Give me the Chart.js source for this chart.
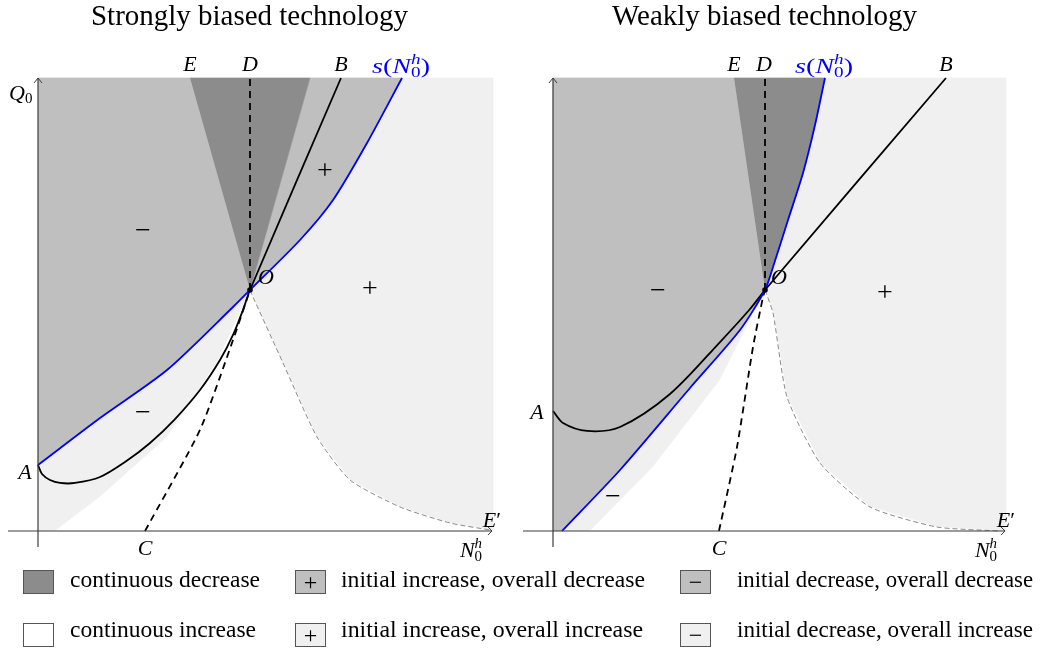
<!DOCTYPE html>
<html><head><meta charset="utf-8">
<script src="https://cdn.jsdelivr.net/npm/chart.js@4.4.0/dist/chart.umd.min.js"></script>
<style>
html,body{margin:0;padding:0;background:#fff;}
body{width:1040px;height:657px;overflow:hidden;position:relative;font-family:"Liberation Serif","Times New Roman",serif;color:#000;}
canvas{position:absolute;top:0;}
.lb{position:absolute;white-space:nowrap;line-height:1;transform-origin:0 0;}
.ss{display:inline-block;vertical-align:-0.32em;font-size:0.68em;line-height:0.92;text-align:left;font-style:italic;}
.ss span{display:block;}
.ss .z{font-style:normal;}
.box{position:absolute;width:29px;height:22px;border:1px solid #555;box-sizing:content-box;text-align:center;font-size:24px;line-height:22px;}
</style></head>
<body>
<canvas id="cl" width="520" height="657" style="left:0"></canvas>
<canvas id="cr" width="520" height="657" style="left:520px"></canvas>
<div id="txt"></div>
<script>
// ---------- DATA (axis units 0..10 in both panels) ----------
// Left panel: strongly biased technology
const leftO = [4.659, 5.32];
const leftBlue = [[0,1.457],[1.363,2.494],[2.835,3.554],[4.286,4.945],[4.659,5.32],[5.758,6.424],[6.484,7.307],[7.231,8.565],[8.0,10]];
const leftBlack = [[0,1.457],[0.088,1.258],[0.264,1.126],[0.484,1.06],[0.813,1.06],[1.363,1.192],[1.912,1.523],[2.462,1.943],[3.011,2.472],[3.56,3.113],[4.0,3.775],[4.286,4.327],[4.505,4.879],[4.659,5.32],[6.659,10]];
const leftDashC = [[2.352,0],[3.56,2.23],[4.286,4.216],[4.659,5.32]];
const leftDashD = [[4.659,5.32],[4.659,10]];
const leftLowEdge = [[0.374,0],[1.363,0.751],[2.835,2.075],[3.934,3.709],[4.659,5.32]];
const leftGrayDash = [[4.659,5.32],[4.725,5.166],[5.385,3.709],[6.132,2.075],[6.857,1.126],[7.956,0.53],[9.055,0.177],[9.934,0.022]];
const leftTopE = 3.341, leftTopDarkRight = 5.978;

// Right panel: weakly biased technology
const rightO = [4.68, 5.32];
const rightBlue = [[0.199,0],[1.479,1.347],[3.024,3.157],[4.128,4.437],[4.68,5.32],[4.857,5.828],[5.188,6.865],[5.519,7.903],[5.784,8.962],[6.004,10]];
const rightBlack = [[0,2.649],[0.221,2.384],[0.751,2.208],[1.479,2.296],[2.583,3.024],[3.687,4.172],[4.349,4.901],[4.68,5.32],[8.675,10]];
const rightDashC = [[3.664,0],[4.062,1.854],[4.415,4.062],[4.636,5.166],[4.68,5.32]];
const rightDashD = [[4.68,5.32],[4.68,10]];
const rightLowEdge = [[0.817,0],[2.208,1.413],[3.687,3.333],[4.68,5.32]];
const rightGrayDash = [[4.68,5.32],[4.857,4.812],[5.166,2.958],[5.894,1.501],[6.998,0.53],[8.477,0.088],[9.868,0]];
const rightTopE = 3.996;

const plotBox = [[0,0],[10,0],[10,10],[0,10]];

const legendItems = [
  {label:'continuous decrease', sign:'', color:'#8c8c8c'},
  {label:'initial increase, overall decrease', sign:'+', color:'#bfbfbf'},
  {label:'initial decrease, overall decrease', sign:'\u2212', color:'#bfbfbf'},
  {label:'continuous increase', sign:'', color:'#ffffff'},
  {label:'initial increase, overall increase', sign:'+', color:'#f0f0f0'},
  {label:'initial decrease, overall increase', sign:'\u2212', color:'#f0f0f0'}
];

// ---------- COLORS ----------
const C_LIGHT='#f0f0f0', C_MED='#bfbfbf', C_DARK='#8c8c8c', C_BLUE='#0000ff';

const xy = a => a.map(p => ({x:p[0], y:p[1]}));
function poly(a, color, order){
  return {data:xy(a), showLine:true, fill:'shape', backgroundColor:color, borderColor:color, borderWidth:0.6, pointRadius:0, tension:0, order};
}
function line(a, color, w, dash, order, tension){
  return {data:xy(a), showLine:true, fill:false, borderColor:color, borderWidth:w, borderDash:dash||[], pointRadius:0, tension:tension||0, order, borderCapStyle:'butt'};
}

function panelDatasets(P){
  const ax = '#3c3c3c';
  return [
    poly(plotBox, C_LIGHT, 100),
    poly(P.white, '#ffffff', 95),
    ...P.med.map(m => poly(m, C_MED, 90)),
    poly(P.dark, C_DARK, 85),
    line(P.grayDash, '#8a8a8a', 1, [5,3], 60, 0.2),
    line(P.dashC, '#000', 1.8, [7,5], 50, 0.2),
    line(P.dashD, '#000', 1.8, [7,5], 50, 0),
    line(P.black, '#000', 1.8, [], 40, 0.3),
    line(P.blue, C_BLUE, 1.8, [], 30, 0.25),
    line([[P.xAxisStart,0],[9.978,0]], ax, 1.2, [], 20),
    line([[9.89,0.09],[9.978,0],[9.89,-0.09]], ax, 1, [], 20),
    line([[0,-0.353],[0,10]], ax, 1.2, [], 20),
    line([[-0.088,9.89],[0,10],[0.088,9.89]], ax, 1, [], 20),
    {data:xy([P.O]), showLine:false, pointRadius:2.8, pointBackgroundColor:'#000', pointBorderWidth:0, order:10}
  ];
}

const leftP = {
  O:leftO, blue:leftBlue, black:leftBlack, dashC:leftDashC, dashD:leftDashD, grayDash:leftGrayDash,
  white: leftLowEdge.concat(leftGrayDash.slice(1), [[9.934,0]]),
  med: [ [[0,10],[leftTopE,10],leftO].concat(leftBlue.slice(0,4).reverse()),
         [[leftTopDarkRight,10]].concat(leftBlue.slice(4).reverse()) ],
  dark: [[leftTopE,10],[leftTopDarkRight,10],leftO],
  xAxisStart:-0.659
};
const rightP = {
  O:rightO, blue:rightBlue, black:rightBlack, dashC:rightDashC, dashD:rightDashD, grayDash:rightGrayDash,
  white: rightLowEdge.concat(rightGrayDash.slice(1)),
  med: [ [[0,0],[0,10],[rightTopE,10],rightO].concat(rightBlue.slice(0,4).reverse()) ],
  dark: [[rightTopE,10]].concat(rightBlue.slice(4).reverse()),
  xAxisStart:-0.662
};

function makeChart(id, P, xr, yr){
  return new Chart(document.getElementById(id), {
    type:'line',
    data:{datasets:panelDatasets(P)},
    options:{
      responsive:false, animation:false, devicePixelRatio:1, events:[],
      layout:{padding:0, autoPadding:false},
      plugins:{legend:{display:false}, tooltip:{enabled:false}, title:{display:false}, filler:{propagate:false}},
      scales:{
        x:{type:'linear', min:xr[0], max:xr[1], display:false},
        y:{type:'linear', min:yr[0], max:yr[1], display:false}
      }
    }
  });
}
makeChart('cl', leftP, [-0.8352, 10.5934], [-2.7815, 11.7219]);
makeChart('cr', rightP, [-0.7285, 10.7506], [-2.7815, 11.7219]);

// ---------- TEXT ----------
const T = document.getElementById('txt');
function put(html, x, base, fs, anchor, style, targetW){
  const d = document.createElement('div');
  d.className = 'lb';
  d.innerHTML = html;
  d.style.fontSize = fs + 'px';
  if (style) d.style.cssText += style;
  T.appendChild(d);
  let w = d.getBoundingClientRect().width;
  let sx = 1;
  if (targetW) { sx = targetW / w; w = targetW; }
  const left = anchor==='c' ? x - w/2 : anchor==='r' ? x - w : x;
  d.style.left = left + 'px';
  d.style.top = (base - 0.8375*fs) + 'px';
  if (sx !== 1) d.style.transform = 'scaleX(' + sx + ')';
  return d;
}
const sub = (a,b) => '<span class="ss"><span>'+a+'</span><span class="z">'+b+'</span></span>';
const NH = '<i>N</i>' + sub('h','0');

put('Strongly biased technology', 249.5, 25, 29, 'c', '', 317);
put('Weakly biased technology', 764.5, 25, 29, 'c', '', 305);

const MF = 22;
// left panel labels
put('<i>E</i>', 190, 71, MF, 'c');
put('<i>D</i>', 250, 71, MF, 'c');
put('<i>B</i>', 341, 71, MF, 'c');
put('<i>s</i>(' + NH + ')', 401, 71, MF, 'c', 'color:#0000ff;', 58);
put('<i>Q</i><span style="font-size:15px;vertical-align:-3px">0</span>', 9, 100, MF, 'l');
put('<i>A</i>', 25, 479, MF, 'c');
put('<i>C</i>', 145, 555, MF, 'c');
put('<i>O</i>', 266, 284, MF, 'c');
put('<i>E</i>\u2032', 492, 527, MF, 'c');
put(NH, 471, 555, MF, 'c');
// right panel labels
put('<i>E</i>', 734, 71, MF, 'c');
put('<i>D</i>', 764, 71, MF, 'c');
put('<i>B</i>', 946, 71, MF, 'c');
put('<i>s</i>(' + NH + ')', 824, 71, MF, 'c', 'color:#0000ff;', 58);
put('<i>A</i>', 537, 419, MF, 'c');
put('<i>C</i>', 719, 555, MF, 'c');
put('<i>O</i>', 779, 284, MF, 'c');
put('<i>E</i>\u2032', 1006, 527, MF, 'c');
put(NH, 986, 555, MF, 'c');

// region signs
const signs = [['\u2212',143,230],['+',325,170],['+',370,288],['\u2212',143,412],
               ['\u2212',658,290],['+',885,292],['\u2212',613,496]];
signs.forEach(s => put(s[0], s[1], s[2]+9, 28, 'c'));

// legend
const legX = [[23,70],[295,341],[680,737]];
const legY = [[570,588],[623,638]];
const legW = [190,304,296,186,302,296];
legendItems.forEach((it,i) => {
  const r = Math.floor(i/3), c = i%3;
  const b = document.createElement('div');
  b.className = 'box';
  b.style.left = legX[c][0] + 'px';
  b.style.top = legY[r][0] + 'px';
  b.style.background = it.color;
  b.textContent = it.sign;
  T.appendChild(b);
  put(it.label, legX[c][1], legY[r][1], 23.5, 'l', '', legW[i]);
});
</script>
</body></html>
